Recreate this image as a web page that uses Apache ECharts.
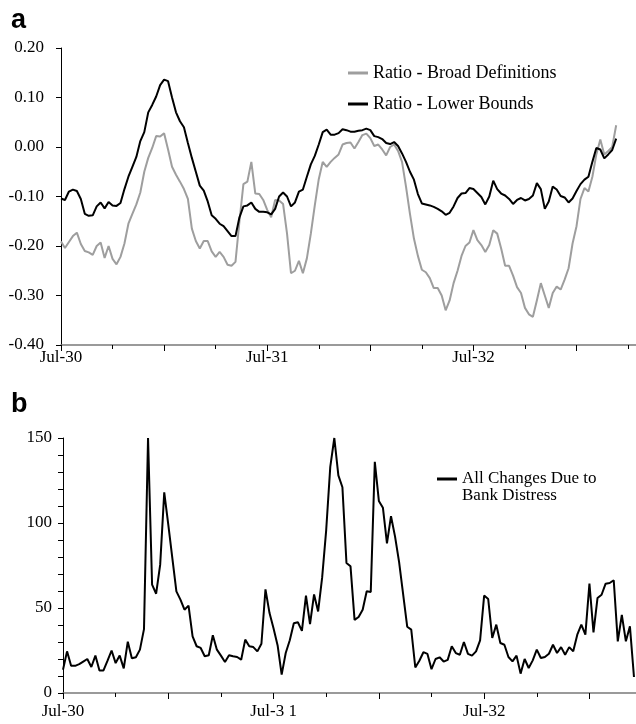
<!DOCTYPE html>
<html><head><meta charset="utf-8">
<script src="https://cdn.jsdelivr.net/npm/echarts@6/dist/echarts.min.js"></script>
<style>html,body{margin:0;padding:0;background:#fff}#c{width:636px;height:724px}</style>
</head><body><div id="c"></div>
<script>
// x positions are week numbers counted from July 1930
const tickLabelsA = {0: 'Jul-30', 52: 'Jul-31', 104: 'Jul-32'};
const tickLabelsB = {0: 'Jul-30', 52: 'Jul-3 1', 104: 'Jul-32'};
const yTicksA = [0.20, 0.10, 0.00, -0.10, -0.20, -0.30, -0.40];
const yTicksB = [0, 50, 100, 150];

const ratioBroad = [
-0.191,-0.204,-0.192,-0.180,-0.173,-0.196,-0.210,-0.213,-0.218,-0.200,
-0.193,-0.224,-0.200,-0.226,-0.237,-0.222,-0.195,-0.155,-0.135,-0.116,
-0.092,-0.050,-0.022,-0.002,0.022,0.021,0.028,-0.005,-0.040,-0.056,
-0.070,-0.085,-0.105,-0.165,-0.190,-0.205,-0.190,-0.190,-0.211,-0.222,
-0.212,-0.222,-0.238,-0.240,-0.232,-0.150,-0.075,-0.070,-0.030,-0.094,
-0.095,-0.107,-0.127,-0.142,-0.107,-0.108,-0.115,-0.175,-0.255,-0.250,
-0.230,-0.255,-0.225,-0.175,-0.118,-0.065,-0.030,-0.040,-0.030,-0.022,
-0.015,0.005,0.008,0.009,-0.003,0.010,0.024,0.027,0.018,0.002,
0.005,-0.005,-0.017,0.000,0.005,-0.008,-0.030,-0.080,-0.135,-0.185,
-0.220,-0.248,-0.253,-0.265,-0.285,-0.285,-0.300,-0.330,-0.310,-0.275,
-0.250,-0.220,-0.200,-0.193,-0.168,-0.188,-0.198,-0.212,-0.198,-0.168,
-0.175,-0.205,-0.240,-0.240,-0.260,-0.283,-0.295,-0.325,-0.338,-0.343,
-0.310,-0.275,-0.300,-0.325,-0.295,-0.282,-0.288,-0.268,-0.245,-0.195,
-0.160,-0.105,-0.083,-0.090,-0.060,-0.015,0.015,-0.015,-0.008,0.000,
0.044
];

const ratioLower = [
-0.104,-0.107,-0.090,-0.086,-0.089,-0.105,-0.135,-0.139,-0.138,-0.120,
-0.112,-0.124,-0.111,-0.118,-0.119,-0.113,-0.085,-0.060,-0.040,-0.020,
0.012,0.030,0.070,0.085,0.102,0.125,0.136,0.133,0.100,0.070,
0.052,0.040,0.008,-0.022,-0.050,-0.078,-0.088,-0.110,-0.138,-0.145,
-0.155,-0.160,-0.170,-0.180,-0.180,-0.142,-0.120,-0.118,-0.112,-0.125,
-0.131,-0.131,-0.132,-0.136,-0.125,-0.100,-0.092,-0.100,-0.120,-0.112,
-0.090,-0.086,-0.060,-0.035,-0.018,0.005,0.030,0.035,0.025,0.025,
0.028,0.036,0.034,0.031,0.031,0.033,0.034,0.037,0.034,0.022,
0.020,0.016,0.008,0.006,0.010,0.002,-0.013,-0.030,-0.050,-0.066,
-0.095,-0.114,-0.116,-0.118,-0.121,-0.125,-0.130,-0.137,-0.133,-0.120,
-0.103,-0.094,-0.093,-0.083,-0.085,-0.093,-0.101,-0.116,-0.100,-0.068,
-0.085,-0.094,-0.098,-0.105,-0.115,-0.107,-0.103,-0.108,-0.105,-0.098,
-0.073,-0.085,-0.125,-0.110,-0.080,-0.086,-0.099,-0.102,-0.112,-0.104,
-0.089,-0.075,-0.066,-0.060,-0.030,-0.002,-0.005,-0.023,-0.015,-0.006,
0.017
];

const bankDistress = [
13.7,24.5,16,16,17,18.5,20,15.3,22,13.3,
13.3,19,25,17.6,22,14.5,30.2,20.4,21,25.5,
37.6,150,63.7,58.4,75.5,118,99,79.4,59.8,54.9,
49,51.4,33.3,27.5,26.5,21.6,22.2,34,25.5,22,
18.2,22.2,21.6,21.2,19.6,31.4,27.5,27,24.5,29,
61,47,38,28,10.8,23.5,31,41,41.6,36.5,
57.3,40.5,58,48,68,96,133,150,128,121,
76.5,74.5,43,44.7,49,59.8,59.4,136,113,109,
88,104,92,77,58,39,37.3,15,19,24,
23,14,20,21,18.5,19.5,27.5,23.5,22.5,30,
23,22,24.5,31,57.3,55.3,32.4,40.2,29.4,28.4,
21.2,18.6,22,11.4,20,14.7,19.2,25.5,20.6,21.2,
23.1,28.4,23.5,27,22.5,27,24.5,34.3,40.2,34.3,
64.3,35.7,55.9,57.8,64.3,64.7,66.3,30.4,46,30.4,
39.2,9.4
];

const toPairs = arr => arr.map((v, i) => [i, v]);
const serif = 'Liberation Serif';
const bName = 'All Changes Due to\nBank Distress';

const chart = echarts.init(document.getElementById('c'), null, {renderer: 'canvas'});

function xAxisCfg(gridIndex, max, labels, margin) {
  return {
    type: 'value', gridIndex, min: 0, max, interval: 26,
    axisLine: {show: true, onZero: false, lineStyle: {color: '#7a7a7a', width: 1.5}},
    axisTick: {show: true, length: 6, lineStyle: {color: '#000', width: 1}},
    minorTick: {show: true, splitNumber: 2, length: 4, lineStyle: {color: '#000', width: 1}},
    splitLine: {show: false},
    axisLabel: {
      margin, color: '#000', fontFamily: serif, fontSize: 17,
      showMaxLabel: false,
      formatter: v => labels[v] || ''
    }
  };
}

chart.setOption({
  animation: false,
  backgroundColor: '#fff',
  title: [
    {text: 'a', left: 6, top: 2, textStyle: {fontFamily: 'Liberation Sans', fontWeight: 'bold', fontSize: 27, color: '#000'}},
    {text: 'b', left: 6, top: 386, textStyle: {fontFamily: 'Liberation Sans', fontWeight: 'bold', fontSize: 27, color: '#000'}}
  ],
  legend: [
    {
      orient: 'vertical', left: 343, top: 59, itemGap: 13,
      icon: 'rect', itemWidth: 20, itemHeight: 3,
      textStyle: {fontFamily: serif, fontSize: 18, color: '#000'},
      data: ['Ratio - Broad Definitions', 'Ratio - Lower Bounds']
    },
    {
      orient: 'vertical', left: 432, top: 449,
      icon: 'rect', itemWidth: 20, itemHeight: 3,
      formatter: name => ' \n' + name,
      textStyle: {fontFamily: serif, fontSize: 17, color: '#000', lineHeight: 16.5},
      data: [bName]
    }
  ],
  grid: [
    {left: 61, top: 48, width: 576, height: 297},
    {left: 63, top: 438, width: 573, height: 255}
  ],
  xAxis: [
    xAxisCfg(0, 145, tickLabelsA, 4),
    xAxisCfg(1, 141.5, tickLabelsB, 10)
  ],
  yAxis: [
    {
      type: 'value', gridIndex: 0, min: -0.4, max: 0.2, interval: 0.1,
      axisLine: {show: true, onZero: false, lineStyle: {color: '#000', width: 1}},
      axisTick: {show: true, length: 5, lineStyle: {color: '#000'}},
      splitLine: {show: false},
      axisLabel: {margin: 17, color: '#000', fontFamily: serif, fontSize: 17,
        formatter: v => {
          const t = yTicksA.find(k => Math.abs(k - v) < 1e-6);
          return t === undefined ? '' : t.toFixed(2);
        }}
    },
    {
      type: 'value', gridIndex: 1, min: 0, max: 150, interval: 50,
      axisLine: {show: true, onZero: false, lineStyle: {color: '#000', width: 1}},
      axisTick: {show: true, length: 5, lineStyle: {color: '#000'}},
      minorTick: {show: true, splitNumber: 5, length: 5, lineStyle: {color: '#000'}},
      splitLine: {show: false},
      axisLabel: {margin: 11, color: '#000', fontFamily: serif, fontSize: 17,
        formatter: v => yTicksB.includes(Math.round(v)) ? String(Math.round(v)) : ''}
    }
  ],
  series: [
    {
      name: 'Ratio - Broad Definitions', type: 'line', xAxisIndex: 0, yAxisIndex: 0,
      data: toPairs(ratioBroad), showSymbol: false, symbol: 'none',
      lineStyle: {color: '#9e9e9e', width: 2}, itemStyle: {color: '#9e9e9e'}
    },
    {
      name: 'Ratio - Lower Bounds', type: 'line', xAxisIndex: 0, yAxisIndex: 0,
      data: toPairs(ratioLower), showSymbol: false, symbol: 'none',
      lineStyle: {color: '#000', width: 2}, itemStyle: {color: '#000'}
    },
    {
      name: bName, type: 'line', xAxisIndex: 1, yAxisIndex: 1,
      data: toPairs(bankDistress), showSymbol: false, symbol: 'none',
      lineStyle: {color: '#000', width: 2}, itemStyle: {color: '#000'}
    }
  ]
});
</script>
</body></html>
